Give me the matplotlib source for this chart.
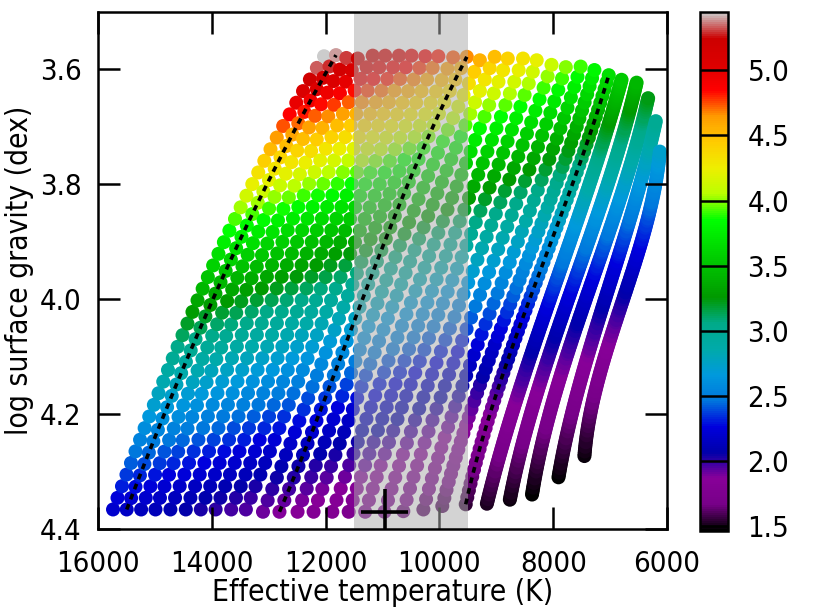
import numpy as np
import matplotlib
matplotlib.use('Agg')
import matplotlib.pyplot as plt
from matplotlib.colors import Normalize
from matplotlib.cm import ScalarMappable

plt.rcParams['font.family'] = ['DejaVu Sans Condensed', 'DejaVu Sans']
plt.rcParams['font.stretch'] = 'condensed'

# --- tracks (one per mass, hot -> cool) ---
mass = [4.1, 4.0, 3.9, 3.8, 3.7, 3.6, 3.5, 3.4, 3.3, 3.2, 3.1, 3.0, 2.9, 2.8,
        2.7, 2.6, 2.5, 2.4, 2.3, 2.2, 2.1, 2.0, 1.9, 1.8, 1.7, 1.6, 1.5]

# start of each track (bottom)
teff_zams = [15740, 15500, 15250, 15000, 14740, 14470, 14210, 13950, 13680,
             13420, 13120, 12830, 12510, 12230, 11900, 11610, 11320, 10980,
             10650, 10300, 9970, 9560, 9180, 8770, 8370, 7900, 7440]
logg_zams = [4.366, 4.366, 4.366, 4.366, 4.366, 4.366, 4.366, 4.366, 4.366,
             4.366, 4.370, 4.370, 4.370, 4.370, 4.370, 4.370, 4.370, 4.370,
             4.369, 4.366, 4.360, 4.357, 4.356, 4.349, 4.340, 4.310, 4.273]

# Teff where each track crosses logg 4.2, 4.0 and 3.8
teff_42 = [15070, 14820, 14540, 14290, 14010, 13740, 13460, 13190, 12910,
           12650, 12350, 12050, 11770, 11490, 11190, 10920, 10650, 10340,
           10030, 9710, 9400, 9040, 8680, 8370, 8070, 7690, 7370]
teff_40 = [14260, 14000, 13750, 13510, 13260, 13000, 12750, 12490, 12250,
           11980, 11720, 11440, 11140, 10860, 10560, 10260, 9980, 9680,
           9390, 9100, 8810, 8510, 8120, 7770, 7420, 7070, 6750]
teff_38 = [13280, 13020, 12770, 12510, 12260, 12010, 11750, 11500, 11250,
           11000, 10750, 10500, 10210, 9920, 9630, 9340, 9050, 8760,
           8470, 8180, 7890, 7600, 7320, 7020, 6750, 6490, 6230]

# end of each track (top)
teff_end = [12030, 11820, 11640, 11440, 11180, 10960, 10720, 10500, 10260,
            10030, 9770, 9530, 9300, 9040, 8810, 8540, 8300, 8040,
            7790, 7530, 7290, 7040, 6810, 6540, 6330, 6190, 6110]
logg_end = [3.577, 3.575, 3.580, 3.581, 3.576, 3.576, 3.576, 3.576, 3.577,
            3.577, 3.579, 3.578, 3.584, 3.578, 3.581, 3.581, 3.584, 3.592,
            3.596, 3.595, 3.601, 3.610, 3.618, 3.623, 3.650, 3.690, 3.743]

# model spacing in logg along each track
model_step = [0.02] * 19 + [0.018, 0.014, 0.012, 0.004, 0.004, 0.004, 0.004, 0.004]

dashed_masses = [4.0, 3.0, 2.0]

# observed star
star_teff, star_teff_err = 10960, 410
star_logg, star_logg_err = 4.37, 0.04
band_teff = (9500, 11500)

LOGG_SUN = 4.438

fig = plt.figure(figsize=(8.14, 6.10), dpi=100)
ax = fig.add_axes([0.1204, 0.1328, 0.699, 0.8475])
cax = fig.add_axes([0.860, 0.1295, 0.0344, 0.851])

norm = Normalize(vmin=1.46, vmax=5.45)
cmap = plt.get_cmap('nipy_spectral')

tracks = {}
for i, m in enumerate(mass):
    node_g = [logg_end[i], 3.8, 4.0, 4.2, logg_zams[i]]
    node_t = [teff_end[i], teff_38[i], teff_40[i], teff_42[i], teff_zams[i]]
    n = int(round((logg_zams[i] - logg_end[i]) / model_step[i])) + 1
    g = np.linspace(logg_zams[i], logg_end[i], n)
    # smooth curve through the read-off nodes
    coef = np.polyfit(node_g, node_t, 3)
    t = np.polyval(coef, g)
    radius = np.sqrt(m * 10 ** (LOGG_SUN - g))
    tracks[m] = (t, g)
    ax.scatter(t, g, c=radius, cmap=cmap, norm=norm, s=102, linewidths=0, zorder=1)

ax.axvspan(band_teff[0], band_teff[1], color=(0.67, 0.67, 0.67), alpha=0.52,
           lw=0, zorder=2)

for m in dashed_masses:
    t, g = tracks[m]
    ax.plot(t, g, color='k', lw=2.6, ls=(0, (1.6, 1.4)), zorder=3)

ax.errorbar(star_teff, star_logg, xerr=star_teff_err, yerr=star_logg_err,
            fmt='none', ecolor='k', elinewidth=2.6, capsize=0, zorder=4)

ax.set_xlim(16000, 6000)
ax.set_ylim(4.4, 3.5)
ax.set_xticks([16000, 14000, 12000, 10000, 8000, 6000])
ax.set_yticks([3.6, 3.8, 4.0, 4.2, 4.4])
ax.set_yticklabels(['3.6', '3.8', '4.0', '4.2', '4.4'])
ax.tick_params(direction='in', length=16, width=1.8, top=True, right=True,
               labelsize=21)
ax.tick_params(axis='x', pad=15)
ax.tick_params(axis='y', pad=12)
for sp in ax.spines.values():
    sp.set_linewidth(1.8)
ax.set_xlabel('Effective temperature (K)', fontsize=21.5, labelpad=0)
ax.set_ylabel('log surface gravity (dex)', fontsize=21.5, labelpad=4)

sm = ScalarMappable(norm=norm, cmap=cmap)
cb = fig.colorbar(sm, cax=cax, ticks=[1.5, 2.0, 2.5, 3.0, 3.5, 4.0, 4.5, 5.0])
cb.ax.tick_params(direction='in', length=20, width=1.8, labelsize=21, pad=14)
cb.outline.set_linewidth(1.8)

fig.savefig('out.png', dpi=100)
